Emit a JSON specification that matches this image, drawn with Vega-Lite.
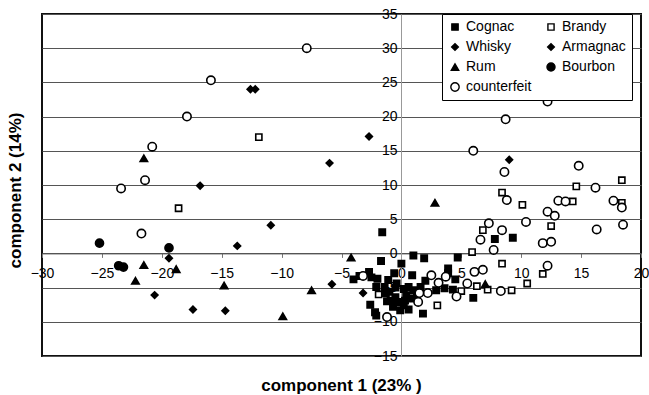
{
  "$schema": "https://vega.github.io/schema/vega-lite/v6.json",
  "width": 599,
  "height": 342,
  "autosize": {"type": "none"},
  "padding": {"left": 42, "top": 14, "right": 8, "bottom": 39},
  "background": "#ffffff",
  "config": {
    "view": {"stroke": "#111111", "strokeWidth": 2},
    "font": "Liberation Sans"
  },
  "data": {
    "values": [
      {"spirit": "Cognac", "pc1": -1.6, "pc2": 3.1},
      {"spirit": "Cognac", "pc1": -1.7, "pc2": -1.1},
      {"spirit": "Cognac", "pc1": 0.0, "pc2": -1.5},
      {"spirit": "Cognac", "pc1": 1.0, "pc2": -0.3},
      {"spirit": "Cognac", "pc1": 1.9, "pc2": -0.7},
      {"spirit": "Cognac", "pc1": 4.7, "pc2": -0.6},
      {"spirit": "Cognac", "pc1": -4.0, "pc2": -3.8},
      {"spirit": "Cognac", "pc1": -3.5, "pc2": -3.3},
      {"spirit": "Cognac", "pc1": -2.7, "pc2": -2.7},
      {"spirit": "Cognac", "pc1": -2.5, "pc2": -3.5},
      {"spirit": "Cognac", "pc1": -2.0, "pc2": -3.7},
      {"spirit": "Cognac", "pc1": -2.1, "pc2": -4.9},
      {"spirit": "Cognac", "pc1": -0.6, "pc2": -2.9},
      {"spirit": "Cognac", "pc1": -1.1, "pc2": -3.9},
      {"spirit": "Cognac", "pc1": 0.9, "pc2": -3.2},
      {"spirit": "Cognac", "pc1": -1.4, "pc2": -4.9},
      {"spirit": "Cognac", "pc1": -1.0, "pc2": -5.6},
      {"spirit": "Cognac", "pc1": -0.5, "pc2": -6.4},
      {"spirit": "Cognac", "pc1": -0.9, "pc2": -6.9},
      {"spirit": "Cognac", "pc1": -0.3, "pc2": -7.1},
      {"spirit": "Cognac", "pc1": 0.2, "pc2": -7.6},
      {"spirit": "Cognac", "pc1": -0.7, "pc2": -7.8},
      {"spirit": "Cognac", "pc1": -0.4, "pc2": -4.4},
      {"spirit": "Cognac", "pc1": 0.6, "pc2": -4.9},
      {"spirit": "Cognac", "pc1": 1.0, "pc2": -5.4},
      {"spirit": "Cognac", "pc1": 0.4, "pc2": -6.1},
      {"spirit": "Cognac", "pc1": 0.9, "pc2": -6.6},
      {"spirit": "Cognac", "pc1": 0.3, "pc2": -6.9},
      {"spirit": "Cognac", "pc1": 1.6, "pc2": -4.9},
      {"spirit": "Cognac", "pc1": 1.8, "pc2": -8.8},
      {"spirit": "Cognac", "pc1": -2.2, "pc2": -8.6},
      {"spirit": "Cognac", "pc1": -2.6, "pc2": -7.5},
      {"spirit": "Cognac", "pc1": -2.1, "pc2": -9.1},
      {"spirit": "Cognac", "pc1": 2.0, "pc2": -4.0},
      {"spirit": "Cognac", "pc1": 3.9, "pc2": -2.2},
      {"spirit": "Cognac", "pc1": 3.9, "pc2": -2.9},
      {"spirit": "Cognac", "pc1": 4.5, "pc2": -3.8},
      {"spirit": "Cognac", "pc1": 3.6, "pc2": -5.1},
      {"spirit": "Cognac", "pc1": 2.9, "pc2": -5.4},
      {"spirit": "Cognac", "pc1": 4.3, "pc2": -5.3},
      {"spirit": "Cognac", "pc1": 6.0, "pc2": -6.5},
      {"spirit": "Cognac", "pc1": 7.8, "pc2": 2.1},
      {"spirit": "Cognac", "pc1": 9.3, "pc2": 2.3},
      {"spirit": "Cognac", "pc1": -1.3, "pc2": -5.8},
      {"spirit": "Cognac", "pc1": -0.1, "pc2": -8.3},
      {"spirit": "Cognac", "pc1": 0.6, "pc2": -8.2},
      {"spirit": "Cognac", "pc1": -1.2, "pc2": -7.0},
      {"spirit": "Cognac", "pc1": 0.2, "pc2": -5.2},
      {"spirit": "Cognac", "pc1": 1.3, "pc2": -6.1},
      {"spirit": "Cognac", "pc1": -0.5, "pc2": -5.0},
      {"spirit": "Brandy", "pc1": -11.9, "pc2": 17.0},
      {"spirit": "Brandy", "pc1": -18.6, "pc2": 6.6},
      {"spirit": "Brandy", "pc1": 8.4, "pc2": 8.9},
      {"spirit": "Brandy", "pc1": 10.1, "pc2": 7.1},
      {"spirit": "Brandy", "pc1": 14.6, "pc2": 9.8},
      {"spirit": "Brandy", "pc1": 14.3, "pc2": 7.6},
      {"spirit": "Brandy", "pc1": 18.4, "pc2": 10.7},
      {"spirit": "Brandy", "pc1": 18.4, "pc2": 7.4},
      {"spirit": "Brandy", "pc1": 12.5, "pc2": 4.0},
      {"spirit": "Brandy", "pc1": 6.8, "pc2": 3.4},
      {"spirit": "Brandy", "pc1": 5.9, "pc2": 0.2},
      {"spirit": "Brandy", "pc1": 8.4, "pc2": -1.5},
      {"spirit": "Brandy", "pc1": 11.8, "pc2": -3.0},
      {"spirit": "Brandy", "pc1": 10.5, "pc2": -4.4},
      {"spirit": "Brandy", "pc1": 9.2, "pc2": -5.4},
      {"spirit": "Brandy", "pc1": 7.2, "pc2": -5.3},
      {"spirit": "Brandy", "pc1": 6.3, "pc2": -4.8},
      {"spirit": "Brandy", "pc1": 5.0, "pc2": -5.5},
      {"spirit": "Brandy", "pc1": 3.0, "pc2": -7.6},
      {"spirit": "Brandy", "pc1": -1.9, "pc2": -6.0},
      {"spirit": "Whisky", "pc1": -12.6, "pc2": 24.0},
      {"spirit": "Whisky", "pc1": -12.2, "pc2": 24.0},
      {"spirit": "Whisky", "pc1": -16.8, "pc2": 9.9},
      {"spirit": "Whisky", "pc1": -2.7, "pc2": 17.1},
      {"spirit": "Whisky", "pc1": -6.0, "pc2": 13.2},
      {"spirit": "Whisky", "pc1": 9.0, "pc2": 13.7},
      {"spirit": "Whisky", "pc1": -10.9, "pc2": 4.1},
      {"spirit": "Whisky", "pc1": -13.7, "pc2": 1.1},
      {"spirit": "Armagnac", "pc1": -19.4, "pc2": -0.7},
      {"spirit": "Armagnac", "pc1": -20.6, "pc2": -6.1},
      {"spirit": "Armagnac", "pc1": -17.4, "pc2": -8.2},
      {"spirit": "Armagnac", "pc1": -14.7, "pc2": -8.4},
      {"spirit": "Armagnac", "pc1": -5.8, "pc2": -4.5},
      {"spirit": "Armagnac", "pc1": -3.2, "pc2": -5.8},
      {"spirit": "Rum", "pc1": -21.5, "pc2": 13.9},
      {"spirit": "Rum", "pc1": -21.5, "pc2": -1.7},
      {"spirit": "Rum", "pc1": -18.8, "pc2": -2.3},
      {"spirit": "Rum", "pc1": -22.2, "pc2": -4.0},
      {"spirit": "Rum", "pc1": -14.8, "pc2": -4.7},
      {"spirit": "Rum", "pc1": -7.5, "pc2": -5.4},
      {"spirit": "Rum", "pc1": -9.9, "pc2": -9.2},
      {"spirit": "Rum", "pc1": -4.2, "pc2": -0.6},
      {"spirit": "Rum", "pc1": 2.8, "pc2": 7.4},
      {"spirit": "Rum", "pc1": 7.0, "pc2": -4.5},
      {"spirit": "Bourbon", "pc1": -25.2, "pc2": 1.5},
      {"spirit": "Bourbon", "pc1": -19.4, "pc2": 0.8},
      {"spirit": "Bourbon", "pc1": -23.6, "pc2": -1.8},
      {"spirit": "Bourbon", "pc1": -23.2, "pc2": -2.0},
      {"spirit": "counterfeit", "pc1": -7.9, "pc2": 30.0},
      {"spirit": "counterfeit", "pc1": -15.9, "pc2": 25.3},
      {"spirit": "counterfeit", "pc1": -17.9, "pc2": 20.0},
      {"spirit": "counterfeit", "pc1": -20.8, "pc2": 15.6},
      {"spirit": "counterfeit", "pc1": -21.4, "pc2": 10.7},
      {"spirit": "counterfeit", "pc1": -23.4, "pc2": 9.5},
      {"spirit": "counterfeit", "pc1": -21.7, "pc2": 2.9},
      {"spirit": "counterfeit", "pc1": -3.2, "pc2": -3.3},
      {"spirit": "counterfeit", "pc1": -1.2, "pc2": -9.3},
      {"spirit": "counterfeit", "pc1": 6.0, "pc2": 15.0},
      {"spirit": "counterfeit", "pc1": 8.7, "pc2": 19.6},
      {"spirit": "counterfeit", "pc1": 12.2, "pc2": 22.2},
      {"spirit": "counterfeit", "pc1": 8.6, "pc2": 11.9},
      {"spirit": "counterfeit", "pc1": 14.8, "pc2": 12.8},
      {"spirit": "counterfeit", "pc1": 16.2, "pc2": 9.6},
      {"spirit": "counterfeit", "pc1": 13.1, "pc2": 7.7},
      {"spirit": "counterfeit", "pc1": 13.7, "pc2": 7.6},
      {"spirit": "counterfeit", "pc1": 17.7, "pc2": 7.7},
      {"spirit": "counterfeit", "pc1": 18.4, "pc2": 6.7},
      {"spirit": "counterfeit", "pc1": 12.2, "pc2": 6.1},
      {"spirit": "counterfeit", "pc1": 12.8, "pc2": 5.5},
      {"spirit": "counterfeit", "pc1": 16.3, "pc2": 3.5},
      {"spirit": "counterfeit", "pc1": 18.5, "pc2": 4.2},
      {"spirit": "counterfeit", "pc1": 11.8, "pc2": 1.5},
      {"spirit": "counterfeit", "pc1": 12.5, "pc2": 1.7},
      {"spirit": "counterfeit", "pc1": 8.8, "pc2": 7.8},
      {"spirit": "counterfeit", "pc1": 10.4, "pc2": 4.6},
      {"spirit": "counterfeit", "pc1": 7.3, "pc2": 4.4},
      {"spirit": "counterfeit", "pc1": 8.4, "pc2": 3.4},
      {"spirit": "counterfeit", "pc1": 6.6, "pc2": 2.0},
      {"spirit": "counterfeit", "pc1": 7.7, "pc2": 0.5},
      {"spirit": "counterfeit", "pc1": 12.2, "pc2": -1.8},
      {"spirit": "counterfeit", "pc1": 6.1, "pc2": -2.7},
      {"spirit": "counterfeit", "pc1": 6.8, "pc2": -2.4},
      {"spirit": "counterfeit", "pc1": 5.5, "pc2": -4.4},
      {"spirit": "counterfeit", "pc1": 8.3, "pc2": -5.5},
      {"spirit": "counterfeit", "pc1": 4.6, "pc2": -6.3},
      {"spirit": "counterfeit", "pc1": 2.5, "pc2": -3.2},
      {"spirit": "counterfeit", "pc1": 3.1, "pc2": -4.3},
      {"spirit": "counterfeit", "pc1": 3.7, "pc2": -3.4},
      {"spirit": "counterfeit", "pc1": 2.2, "pc2": -5.8},
      {"spirit": "counterfeit", "pc1": 1.4, "pc2": -7.1},
      {"spirit": "counterfeit", "pc1": 1.5, "pc2": -5.8}
    ]
  },
  "mark": {"type": "point", "filled": false, "stroke": "#000000", "strokeWidth": 1.6, "opacity": 1},
  "encoding": {
    "x": {
      "field": "pc1",
      "type": "quantitative",
      "scale": {"domain": [-30, 20], "nice": false, "zero": false},
      "axis": {
        "title": "component 1  (23% )",
        "titleFont": "Liberation Sans",
        "titleFontSize": 17,
        "titleFontWeight": "bold",
        "titleColor": "#000000",
        "titleX": 299,
        "titleY": 132,
        "titleAlign": "center",
        "titleBaseline": "middle",
        "offset": -102.6,
        "values": [-30, -25, -20, -15, -10, -5, 0, 5, 10, 15, 20],
        "format": "d",
        "labelFont": "Liberation Sans",
        "labelFontSize": 14,
        "labelColor": "#000000",
        "labelFlush": false,
        "labelOverlap": false,
        "labelBound": false,
        "labelPadding": 9,
        "tickSize": 4,
        "tickColor": "#777777",
        "domainColor": "#555555",
        "domainWidth": 1,
        "grid": false
      }
    },
    "y": {
      "field": "pc2",
      "type": "quantitative",
      "scale": {"domain": [-15, 35], "nice": false, "zero": false},
      "axis": {
        "title": "component 2  (14%)",
        "titleFont": "Liberation Sans",
        "titleFontSize": 17,
        "titleFontWeight": "bold",
        "titleColor": "#000000",
        "titleAngle": -90,
        "titleX": -386,
        "titleY": 176,
        "titleAlign": "center",
        "titleBaseline": "middle",
        "offset": -359,
        "values": [-15, -10, -5, 0, 5, 10, 15, 20, 25, 30, 35],
        "format": "d",
        "labelFont": "Liberation Sans",
        "labelFontSize": 14,
        "labelColor": "#000000",
        "labelFlush": false,
        "labelOverlap": false,
        "labelBound": false,
        "labelPadding": 4,
        "ticks": false,
        "domainColor": "#999999",
        "domainWidth": 1,
        "grid": true,
        "gridColor": "#555555",
        "gridWidth": 1,
        "gridOpacity": 1
      }
    },
    "shape": {
      "field": "spirit",
      "type": "nominal",
      "scale": {
        "domain": ["Cognac", "Brandy", "Whisky", "Armagnac", "Rum", "Bourbon", "counterfeit"],
        "range": ["square", "square", "diamond", "diamond", "triangle-up", "circle", "circle"]
      },
      "legend": {
        "title": null,
        "orient": "none",
        "legendX": 400,
        "legendY": 0,
        "columns": 2,
        "direction": "horizontal",
        "strokeColor": "#000000",
        "fillColor": "#ffffff",
        "padding": 6,
        "columnPadding": 12,
        "rowPadding": 6,
        "labelFont": "Liberation Sans",
        "labelFontSize": 14,
        "labelColor": "#000000",
        "labelOffset": 4,
        "symbolStrokeColor": "#000000",
        "symbolStrokeWidth": 1.4,
        "symbolOpacity": 1
      }
    },
    "fill": {
      "field": "spirit",
      "type": "nominal",
      "scale": {
        "domain": ["Cognac", "Brandy", "Whisky", "Armagnac", "Rum", "Bourbon", "counterfeit"],
        "range": ["#000000", "#ffffff", "#000000", "#000000", "#000000", "#000000", "#ffffff"]
      }
    },
    "size": {
      "field": "spirit",
      "type": "nominal",
      "scale": {
        "type": "ordinal",
        "domain": ["Cognac", "Brandy", "Whisky", "Armagnac", "Rum", "Bourbon", "counterfeit"],
        "range": [40, 38, 45, 45, 55, 65, 70]
      }
    }
  }
}
